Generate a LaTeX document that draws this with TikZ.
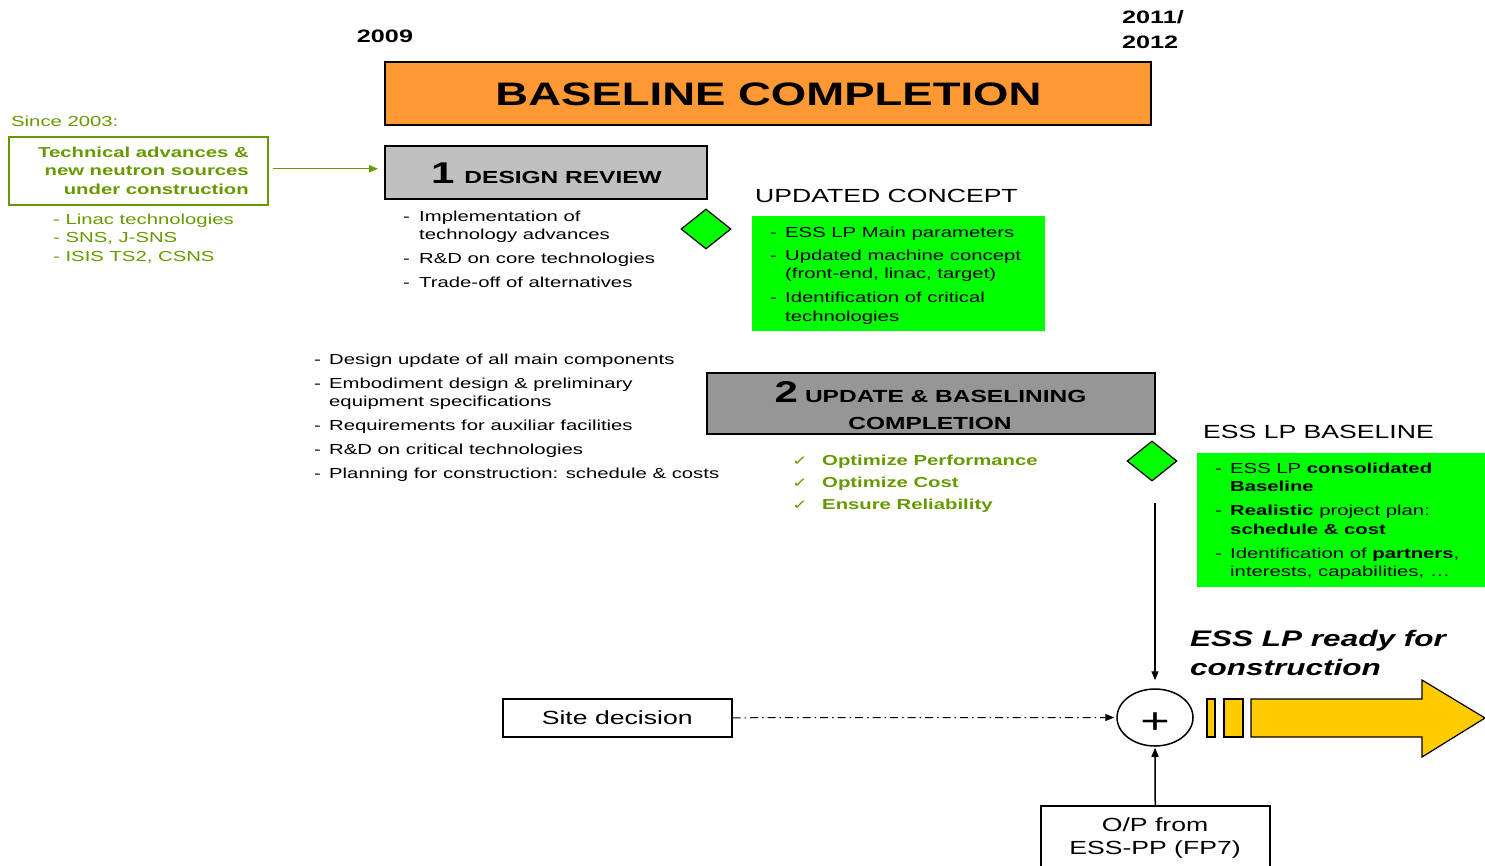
\documentclass[tikz,border=0pt]{standalone}
\usepackage{fontspec}
\setmainfont{Liberation Sans}[FakeStretch=1.4]
\newfontfamily\checkfont{DejaVu Sans}[FakeStretch=1.4]
\usetikzlibrary{arrows.meta,shapes.geometric}

\definecolor{leaf}{RGB}{102,153,0}
\definecolor{lime}{RGB}{0,255,0}
\definecolor{tangerine}{RGB}{255,153,51}
\definecolor{pale}{RGB}{192,192,192}
\definecolor{slate}{RGB}{150,150,150}
\definecolor{amber}{RGB}{255,204,0}

% text sizes
\newcommand\txtbody{\fontsize{14.5}{18.5}\selectfont}
\newcommand\txtmid{\fontsize{19}{23}\selectfont}
\newcommand\txthead{\bfseries\fontsize{17.5}{17.5}\selectfont}
\newcommand\txtnum{\bfseries\fontsize{30}{30}\selectfont}
% dashed list items: item start and continuation line
\newcommand\dli{\makebox[15pt][l]{-}}
\newcommand\dlc{\hspace*{15pt}}
\newcommand\chk{\makebox[30pt][l]{\checkfont\mdseries\fontsize{13.5}{13.5}\selectfont ✓}}

\begin{document}
\begin{tikzpicture}[x=1pt,y=-1pt,
  frame/.style={draw=black, line width=1.5pt, inner sep=0pt},
  list/.style={anchor=north west, inner sep=0pt, align=left, font=\txtbody},
  label/.style={inner sep=0pt},
  milestone/.style={diamond, draw=black, fill=lime, line width=1.2pt,
    minimum width=50pt, minimum height=40pt, inner sep=0pt},
  link/.style={line width=1.5pt, -{Triangle[length=9pt,width=7pt]}}]

\useasboundingbox (0,0) rectangle (1485,865);
\clip (0,0) rectangle (1485,865);

% time line
\node[label, anchor=base, font=\bfseries\fontsize{18}{18}\selectfont] (y09) at (385,42.5) {2009};
\node[label, anchor=north west, align=left, font=\bfseries\fontsize{18}{25}\selectfont] (y12) at (1122,10.5) {2011/\\2012};

\node[frame, fill=tangerine, minimum width=766pt, minimum height=63pt, anchor=north west] (base) at (384,61) {};
\node[label, anchor=base, font=\bfseries\fontsize{32.5}{32.5}\selectfont] (basetxt) at (768.5,105) {BASELINE COMPLETION};

% input on the left
\node[label, anchor=base west, font=\txtbody, text=leaf] (since) at (11,126) {Since 2003:};
\node[draw=leaf, line width=1.5pt, minimum width=259pt, minimum height=68pt, anchor=north west, inner sep=0pt] (tech) at (8,136) {};
\node[label, anchor=north east, align=right, text=leaf, font=\bfseries\txtbody] (techtxt) at (249,146.5)
  {Technical advances \&\\new neutron sources\\under construction};
\node[list, text=leaf] (srcs) at (53,213.7) {- Linac technologies\\- SNS, J-SNS\\- ISIS TS2, CSNS};

% step 1
\node[frame, fill=pale, minimum width=322pt, minimum height=53pt, anchor=north west] (dr) at (384,145) {};
\node[label, anchor=base] (drtxt) at (546.5,183.5) {{\txtnum 1}\hspace{10pt}{\txthead DESIGN REVIEW}};
\draw[link, draw=leaf, fill=leaf, line width=1.2pt] ([shift={(4,-2)}]tech.east) -- ([shift={(-6,-2)}]tech.east -| dr.west);

\node[list] (drlist) at (403,210.7)
  {\makebox[16pt][l]{-}Implementation of\\\hspace*{16pt}technology advances\\[5.5pt]
   \makebox[16pt][l]{-}R\&D on core technologies\\[5.5pt]
   \makebox[16pt][l]{-}Trade-off of alternatives};

\node[milestone] (m1) at (706,229) {};

\node[label, anchor=base west, font=\fontsize{19}{19}\selectfont] (uc) at (755,202.8) {UPDATED CONCEPT};
\node[fill=lime, minimum width=293pt, minimum height=115pt, anchor=north west, inner sep=0pt] (ucbox) at (752,216) {};
\node[list] (uclist) at (770,226.7)
  {\dli ESS LP Main parameters\\[4.5pt]
   \dli Updated machine concept\\\dlc (front-end, linac, target)\\[5.5pt]
   \dli Identification of critical\\\dlc technologies};

% step 2
\node[list] (midlist) at (314,353.7)
  {\dli Design update of all main components\\[5.5pt]
   \dli Embodiment design \& preliminary\\\dlc equipment specifications\\[5.5pt]
   \dli Requirements for auxiliar facilities\\[5.5pt]
   \dli R\&D on critical technologies\\[5.5pt]
   \dli Planning for construction: schedule \& costs};

\node[frame, fill=slate, minimum width=448pt, minimum height=61pt, anchor=north west] (ub) at (706,372) {};
\node[label, anchor=base] (ubt1) at (930.5,402.5) {{\txtnum 2}\hspace{7pt}{\txthead UPDATE \& BASELINING}};
\node[label, anchor=base, font=\txthead] (ubt2) at (930,429) {COMPLETION};

\node[list, text=leaf, font=\bfseries\fontsize{14.5}{22}\selectfont] (checks) at (792,454.7)
  {\chk Optimize Performance\\\chk Optimize Cost\\\chk Ensure Reliability};

\node[milestone] (m2) at (1152,461) {};

\node[label, anchor=base west, font=\fontsize{19}{19}\selectfont] (eb) at (1203,438.8) {ESS LP BASELINE};
\node[fill=lime, minimum width=290pt, minimum height=134pt, anchor=north west, inner sep=0pt] (ebbox) at (1197,453) {};
\node[list] (eblist) at (1215,462.7)
  {\dli ESS LP \textbf{consolidated}\\\dlc\textbf{Baseline}\\[5.5pt]
   \dli\textbf{Realistic} project plan:\\\dlc\textbf{schedule \& cost}\\[5.5pt]
   \dli Identification of \textbf{partners},\\\dlc interests, capabilities, …};

% junction
\node[ellipse, draw=black, line width=1.5pt, minimum width=76pt, minimum height=57pt, inner sep=0pt] (plus) at (1155,717.5) {};
\node[label, anchor=base, font=\fontsize{36}{36}\selectfont] (plussign) at (1155,733.6) {+};

\coordinate (vtop) at (1155,503);
\draw[link] (vtop) -- (plus.north) [shorten >=8pt];

\node[frame, minimum width=229pt, minimum height=38pt, anchor=north west, font=\txtmid] (sd) at (502,698) {Site decision};
\draw[link, dash pattern=on 8pt off 4pt on 1.5pt off 4pt, line width=1pt, shorten >=2pt] (sd.east) -- (plus.west);

\node[frame, minimum width=229pt, minimum height=70pt, anchor=north west] (op) at (1040,805) {};
\node[label, anchor=north, align=center, font=\txtmid] (optxt) at (1155,817.2) {O/P from\\ESS-PP (FP7)};
\draw[link, shorten >=1pt] (op.north) -- (plus.south);

\node[list, font=\bfseries\itshape\fontsize{22.5}{29}\selectfont] (ready) at (1190,630) {ESS LP ready for\\construction};

% outgoing arrow
\draw[line width=1.2pt, fill=amber] (1207,699) rectangle (1215,737);
\draw[line width=1.2pt, fill=amber] (1224,699) rectangle (1243,737);
\draw[line width=1.2pt, fill=amber, line join=miter]
  (1251,699) -- (1422,699) -- (1422,680) -- (1485,718) -- (1422,757) -- (1422,737) -- (1251,737) -- cycle;

\end{tikzpicture}
\end{document}
